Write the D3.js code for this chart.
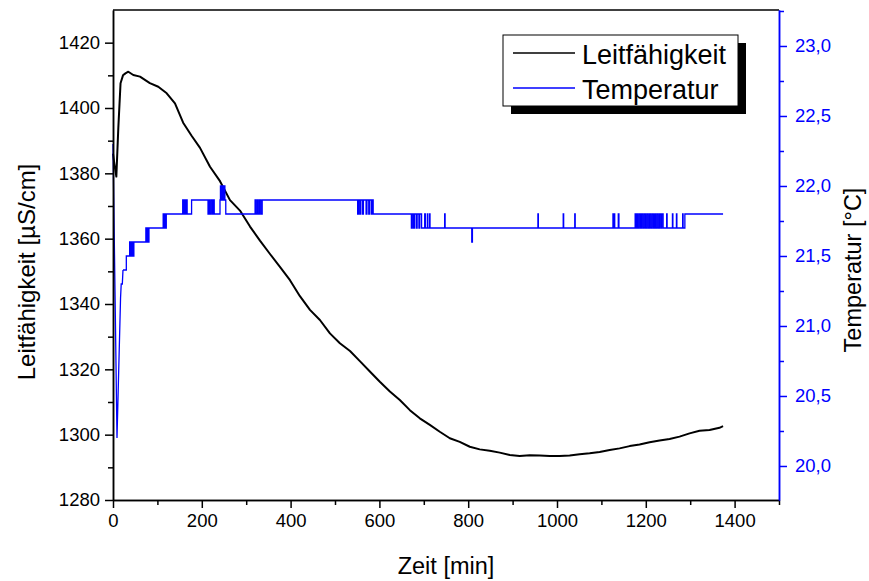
<!DOCTYPE html>
<html>
<head>
<meta charset="utf-8">
<title>Leitfähigkeit und Temperatur</title>
<script src="https://d3js.org/d3.v7.min.js"></script>
<style>
  body { margin: 0; background: #fff; }
  text { font-family: "Liberation Sans", Arial, sans-serif; }
</style>
</head>
<body>
<svg width="869" height="581"></svg>
<script>

// conductivity readings (time in min, value in µS/cm)
const condTime = [0, 3, 7.5, 12, 17, 22.5, 28, 34.5, 45.7, 60.8, 83, 102, 121, 139.6, 158, 177, 196, 218.5, 241, 263.5, 286, 308.6,
  331, 353.6, 376, 398.6, 421, 443.6, 466, 488.6, 511, 533.8, 556, 578, 601, 623.6, 646, 668.6, 691, 713.6, 736,
  758.6, 781, 803.6, 826, 848.6, 871, 893.6, 916, 938.6, 961, 983.6, 1006, 1028.6, 1051, 1073.6, 1096, 1118.6,
  1141, 1163.6, 1186, 1208.6, 1231, 1253.6, 1276, 1298.6, 1321, 1343.6, 1366, 1374];
const condValue = [1386, 1383, 1379, 1394, 1407.6, 1410, 1410.6, 1411.1, 1410.1, 1409.6, 1407.6, 1406.5, 1404.5, 1401.4, 1395.5, 1391.5, 1387.8, 1382, 1377.6, 1371.8, 1368.6, 1363.7,
  1359.4, 1355.3, 1351.4, 1347.3, 1342.4, 1338.2, 1335.1, 1331, 1328, 1325.6, 1322.5, 1319.4, 1316.2, 1313.2, 1310.6, 1307.5, 1305, 1303, 1300.9,
  1298.9, 1297.8, 1296.3, 1295.5, 1295.1, 1294.5, 1293.8, 1293.5, 1293.7, 1293.6, 1293.5, 1293.5, 1293.6, 1294, 1294.3, 1294.7, 1295.3,
  1295.8, 1296.5, 1297, 1297.7, 1298.2, 1298.7, 1299.4, 1300.4, 1301.2, 1301.4, 1302.1, 1302.6];

// temperature: first minutes (linear), then sensor steps of 0.1 °C
const rampTime = [0, 9, 17, 18.5, 21, 22.5];
const rampValue = [22.3, 20.2, 21.2, 21.3, 21.3, 21.4];

const stepTime = [22.5, 30, 37.5, 38.5, 40, 41.5, 43, 45, 47, 74, 75.5, 77, 79, 81, 83,
  113, 115, 117, 119, 120, 157, 159, 161, 163, 165, 167, 177,
  214, 216, 218, 221, 224, 226, 228, 241, 242, 244, 246, 248, 250, 252, 254,
  320, 322, 325, 327, 330, 333, 336,
  551, 553, 556, 558, 562, 564, 570, 572, 576, 578, 582, 584, 586,
  672, 674, 677, 679, 683, 685, 689, 691, 695, 702, 703.5, 708, 709, 713, 714, 747, 748, 808, 809.5,
  957, 958, 1014, 1015, 1040, 1041, 1126, 1127, 1129, 1130, 1138, 1139.5,
  1176, 1178, 1180, 1182, 1185, 1188, 1190, 1193, 1196, 1199, 1202, 1205, 1208, 1211, 1214, 1217, 1220, 1222,
  1225, 1228, 1231, 1234, 1236, 1239, 1247, 1248, 1260, 1261, 1269, 1270, 1283, 1284, 1288, 1374];
const stepValue = [21.4, 21.5, 21.6, 21.5, 21.6, 21.5, 21.6, 21.5, 21.6, 21.7, 21.6, 21.7, 21.6, 21.7, 21.7,
  21.8, 21.7, 21.8, 21.7, 21.8, 21.9, 21.8, 21.9, 21.8, 21.9, 21.8, 21.9,
  21.8, 21.9, 21.8, 21.9, 21.8, 21.9, 21.8, 21.9, 22.0, 21.9, 22.0, 21.9, 22.0, 21.9, 21.8,
  21.9, 21.8, 21.9, 21.8, 21.9, 21.8, 21.9,
  21.8, 21.9, 21.8, 21.9, 21.8, 21.9, 21.8, 21.9, 21.8, 21.9, 21.8, 21.9, 21.8,
  21.7, 21.8, 21.7, 21.8, 21.7, 21.8, 21.7, 21.8, 21.7, 21.8, 21.7, 21.8, 21.7, 21.8, 21.7, 21.8, 21.7, 21.6, 21.7,
  21.8, 21.7, 21.8, 21.7, 21.8, 21.7, 21.8, 21.7, 21.8, 21.7, 21.8, 21.7,
  21.8, 21.7, 21.8, 21.7, 21.8, 21.7, 21.8, 21.7, 21.8, 21.7, 21.8, 21.7, 21.8, 21.7, 21.8, 21.7, 21.8, 21.7,
  21.8, 21.7, 21.8, 21.7, 21.8, 21.7, 21.8, 21.7, 21.8, 21.7, 21.8, 21.7, 21.8, 21.7, 21.8, 21.8];

const xMajor = [0, 200, 400, 600, 800, 1000, 1200, 1400];
const xMinor = [100, 300, 500, 700, 900, 1100, 1300, 1500];
const yLeftMajor = [1280, 1300, 1320, 1340, 1360, 1380, 1400, 1420];
const yLeftMinor = [1290, 1310, 1330, 1350, 1370, 1390, 1410];
const yRightMajor = [20.0, 20.5, 21.0, 21.5, 22.0, 22.5, 23.0];
const yRightMinor = [20.25, 20.75, 21.25, 21.75, 22.25, 22.75, 23.25];

const legendLabels = ['Leitfähigkeit', 'Temperatur'];

const blue = '#0000ff';
const svg = d3.select('svg');

const x = d3.scaleLinear().domain([0, 1500]).range([113, 779]);
const yL = d3.scaleLinear().domain([1280, 1430]).range([500, 10]);
const yR = d3.scaleLinear().domain([19.757, 23.257]).range([500, 10]);

const deFormat = d3.formatLocale({decimal: ',', thousands: '.', grouping: [3], currency: ['', '€']}).format('.1f');

// curves
const condData = condTime.map((t, i) => [t, condValue[i]]);
svg.append('path')
    .datum(condData)
    .attr('fill', 'none')
    .attr('stroke', '#000')
    .attr('stroke-width', 2)
    .attr('stroke-linejoin', 'round')
    .attr('d', d3.line().x(d => x(d[0])).y(d => yL(d[1])));

const rampData = rampTime.map((t, i) => [t, rampValue[i]]);
const stepData = stepTime.map((t, i) => [t, stepValue[i]]);
svg.append('path')
    .datum(rampData)
    .attr('fill', 'none')
    .attr('stroke', blue)
    .attr('stroke-width', 1.3)
    .attr('d', d3.line().x(d => x(d[0])).y(d => yR(d[1])));
svg.append('path')
    .datum(stepData)
    .attr('fill', 'none')
    .attr('stroke', blue)
    .attr('stroke-width', 1.3)
    .attr('d', d3.line().curve(d3.curveStepAfter).x(d => x(d[0])).y(d => yR(d[1])));

// frame: top line
svg.append('line')
    .attr('x1', 113).attr('x2', 779).attr('y1', 10).attr('y2', 10)
    .attr('stroke', '#000').attr('stroke-width', 1.5);

// axes
const styleAxis = (g, color) => {
    g.selectAll('.domain').attr('stroke', color).attr('stroke-width', 1.5);
    g.selectAll('.tick line').attr('stroke', color).attr('stroke-width', 1.5);
    g.selectAll('.tick text').attr('fill', color).style('font-size', '18.5px')
        .style('font-family', '"Liberation Sans", Arial, sans-serif');
};

svg.append('g')
    .attr('transform', 'translate(0,500)')
    .call(d3.axisBottom(x).tickValues(xMinor).tickSize(5).tickFormat('').tickSizeOuter(0))
    .call(g => styleAxis(g, '#000'));
svg.append('g')
    .attr('transform', 'translate(0,500)')
    .call(d3.axisBottom(x).tickValues(xMajor).tickSize(8).tickPadding(6).tickFormat(d3.format('d')).tickSizeOuter(0))
    .call(g => styleAxis(g, '#000'));

svg.append('g')
    .attr('transform', 'translate(113,0)')
    .call(d3.axisLeft(yL).tickValues(yLeftMinor).tickSize(5).tickFormat('').tickSizeOuter(0))
    .call(g => styleAxis(g, '#000'));
svg.append('g')
    .attr('transform', 'translate(113,0)')
    .call(d3.axisLeft(yL).tickValues(yLeftMajor).tickSize(8).tickPadding(5).tickFormat(d3.format('d')).tickSizeOuter(0))
    .call(g => styleAxis(g, '#000'));

svg.append('g')
    .attr('transform', 'translate(779,0)')
    .call(d3.axisRight(yR).tickValues(yRightMinor.filter(v => v < 23.257)).tickSize(5).tickFormat('').tickSizeOuter(0))
    .call(g => styleAxis(g, blue));
svg.append('g')
    .attr('transform', 'translate(779,0)')
    .call(d3.axisRight(yR).tickValues(yRightMajor).tickSize(8).tickPadding(8).tickFormat(deFormat).tickSizeOuter(0))
    .call(g => styleAxis(g, blue));

// axis titles
svg.append('text')
    .attr('x', 446).attr('y', 574)
    .attr('text-anchor', 'middle')
    .style('font-size', '23.5px')
    .text('Zeit [min]');
svg.append('text')
    .attr('transform', 'translate(35,272) rotate(-90)')
    .attr('text-anchor', 'middle')
    .style('font-size', '24px')
    .text('Leitfähigkeit [µS/cm]');
svg.append('text')
    .attr('transform', 'translate(861,270) rotate(-90)')
    .attr('text-anchor', 'middle')
    .style('font-size', '23.5px')
    .text('Temperatur [°C]');

// legend with shadow
const legend = svg.append('g');
legend.append('rect')
    .attr('x', 511).attr('y', 43).attr('width', 235).attr('height', 71)
    .attr('fill', '#000');
legend.append('rect')
    .attr('x', 503).attr('y', 35).attr('width', 235).attr('height', 71)
    .attr('fill', '#fff').attr('stroke', '#000').attr('stroke-width', 1);

const legendColors = ['#000', blue];
legendLabels.forEach((label, i) => {
    const yy = 53 + i * 35;
    legend.append('line')
        .attr('x1', 513).attr('x2', 575).attr('y1', yy).attr('y2', yy)
        .attr('stroke', legendColors[i]).attr('stroke-width', 1.3);
    legend.append('text')
        .attr('x', 582).attr('y', yy + 11)
        .style('font-size', '27px')
        .text(label);
});

</script>
</body>
</html>
